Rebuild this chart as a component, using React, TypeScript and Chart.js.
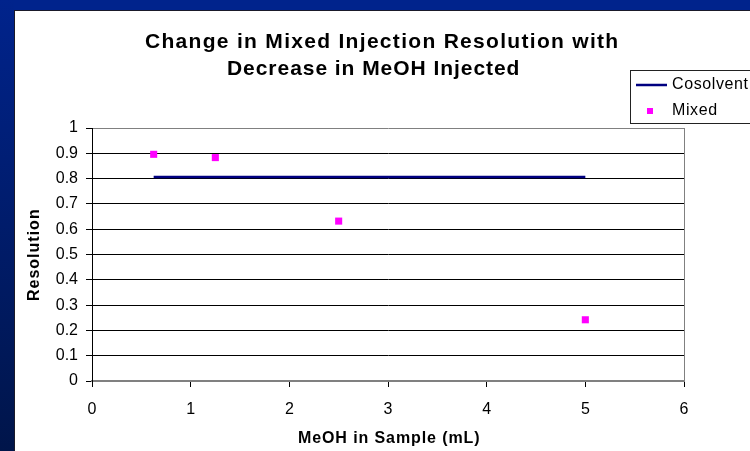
import React, { useEffect, useRef } from "react";
import { Chart, registerables } from "chart.js";

Chart.register(...registerables);

const titleLines = ["Change in Mixed Injection Resolution with", "Decrease in MeOH Injected"];
const xAxisTitle = "MeOH in Sample (mL)";
const yAxisTitle = "Resolution";
const seriesNames = ["Cosolvent", "Mixed"];

const cosolventX = [0.625, 5];
const cosolventY = [0.806, 0.806];
const mixedX = [0.625, 1.25, 2.5, 5];
const mixedY = [0.896, 0.883, 0.632, 0.242];

const xTickLabels = ["0", "1", "2", "3", "4", "5", "6"];
const yTickLabels = ["0", "0.1", "0.2", "0.3", "0.4", "0.5", "0.6", "0.7", "0.8", "0.9", "1"];

const FONT = "'Liberation Sans', Arial, sans-serif";
const NAVY = "#000080";
const PINK = "#FF00FF";

const decorPlugin = {
  id: "decor",
  beforeDraw(chart: any) {
    const ctx = chart.ctx;
    const W = chart.width;
    const H = chart.height;
    ctx.save();
    ctx.fillStyle = "#ffffff";
    ctx.fillRect(0, 0, W, H);
    ctx.fillStyle = "#00238c";
    ctx.fillRect(0, 0, W, 10);
    const g = ctx.createLinearGradient(0, 0, 0, H);
    g.addColorStop(0, "#00238c");
    g.addColorStop(1, "#00154a");
    ctx.fillStyle = g;
    ctx.fillRect(0, 0, 14, H);
    ctx.fillStyle = "#1a1a2a";
    ctx.fillRect(14, 10, 1, H - 10);
    ctx.fillRect(14, 10, W - 14, 1);
    ctx.restore();
  },
  afterDraw(chart: any) {
    const ctx = chart.ctx;
    ctx.save();
    ctx.fillStyle = "#000";
    ctx.textAlign = "left";
    ctx.textBaseline = "alphabetic";
    // title
    ctx.font = `bold 21px ${FONT}`;
    (ctx as any).letterSpacing = "1.3px";
    ctx.fillText(titleLines[0], 145, 48);
    (ctx as any).letterSpacing = "0.95px";
    ctx.fillText(titleLines[1], 227, 75);
    // x axis title
    ctx.font = `bold 16px ${FONT}`;
    (ctx as any).letterSpacing = "0.9px";
    ctx.fillText(xAxisTitle, 298, 443);
    // y axis title
    (ctx as any).letterSpacing = "1px";
    ctx.save();
    ctx.translate(39, 301);
    ctx.rotate(-Math.PI / 2);
    ctx.fillText(yAxisTitle, 0, 0);
    ctx.restore();
    // legend
    (ctx as any).letterSpacing = "0.6px";
    ctx.fillStyle = "#fff";
    ctx.fillRect(630, 70, 130, 53);
    ctx.strokeStyle = "#222";
    ctx.lineWidth = 1;
    ctx.strokeRect(630.5, 70.5, 130, 53);
    ctx.strokeStyle = NAVY;
    ctx.lineWidth = 2.5;
    ctx.beginPath();
    ctx.moveTo(636, 85);
    ctx.lineTo(667, 85);
    ctx.stroke();
    ctx.fillStyle = PINK;
    ctx.fillRect(647, 108, 6, 6);
    ctx.fillStyle = "#000";
    ctx.font = `16px ${FONT}`;
    ctx.textBaseline = "middle";
    ctx.fillText(seriesNames[0], 672, 85);
    ctx.fillText(seriesNames[1], 672, 111);
    ctx.restore();
  },
};

export default function App() {
  const ref = useRef<HTMLCanvasElement>(null);
  useEffect(() => {
    if (!ref.current) return;
    const chart = new Chart(ref.current, {
      type: "scatter",
      data: {
        datasets: [
          {
            label: seriesNames[0],
            data: cosolventX.map((x, i) => ({ x, y: cosolventY[i] })),
            showLine: true,
            borderColor: NAVY,
            borderWidth: 2.5,
            pointRadius: 0,
            pointHoverRadius: 0,
          },
          {
            label: seriesNames[1],
            data: mixedX.map((x, i) => ({ x, y: mixedY[i] })),
            showLine: false,
            pointStyle: "rect",
            pointRadius: 5,
            pointBorderWidth: 0,
            backgroundColor: PINK,
            borderColor: PINK,
          },
        ],
      },
      options: {
        animation: false,
        responsive: false,
        devicePixelRatio: 1,
        layout: { padding: { top: 128, right: 66, left: 0, bottom: 0 } },
        plugins: { legend: { display: false }, title: { display: false }, tooltip: { enabled: false } },
        scales: {
          x: {
            type: "linear",
            min: 0,
            max: 6,
            afterFit: (s: any) => {
              s.height = 70;
            },
            afterBuildTicks: (s: any) => {
              s.ticks = xTickLabels.map((_, i) => ({ value: i }));
            },
            ticks: {
              stepSize: 1,
              color: "#000",
              font: { family: FONT, size: 16 },
              padding: 13,
              callback: (_v: any, i: number) => xTickLabels[i],
            },
            grid: {
              color: (c: any) => (c.tick && c.tick.value === 6 ? "#808080" : "rgba(0,0,0,0)"),
              tickColor: "#000",
              tickLength: 6,
              lineWidth: 1,
            },
            border: { color: "#808080", width: 2 },
          },
          y: {
            type: "linear",
            min: 0,
            max: 1,
            afterFit: (s: any) => {
              s.width = 92;
            },
            afterBuildTicks: (s: any) => {
              s.ticks = yTickLabels.map((_, i) => ({ value: i / 10 }));
            },
            ticks: {
              stepSize: 0.1,
              color: "#000",
              font: { family: FONT, size: 16 },
              padding: 8,
              callback: (_v: any, i: number) => yTickLabels[i],
            },
            grid: {
              color: (c: any) =>
                c.tick && (c.tick.value === 0 || c.tick.value === 1) ? "#808080" : "#000",
              tickColor: "#000",
              tickLength: 6,
              lineWidth: 1,
            },
            border: { color: "#000", width: 1 },
          },
        },
      },
      plugins: [decorPlugin],
    });
    return () => chart.destroy();
  }, []);
  return (
    <div style={{ position: "fixed", left: 0, top: 0, width: 750, height: 451 }}>
      <canvas ref={ref} width={750} height={451} style={{ display: "block" }} />
    </div>
  );
}
